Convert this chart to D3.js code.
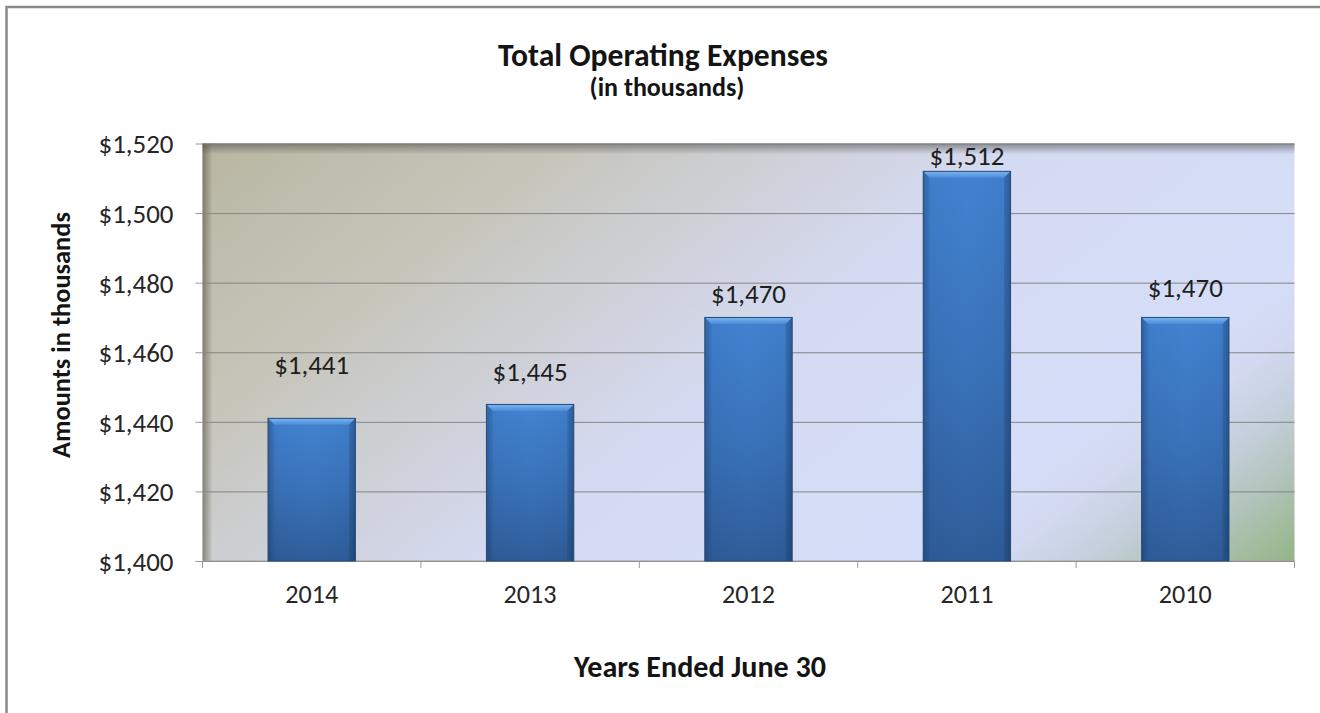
<!DOCTYPE html>
<html>
<head>
<meta charset="utf-8">
<script src="https://cdn.jsdelivr.net/npm/d3@7"></script>
<style>
  html, body { margin: 0; padding: 0; background: #ffffff; overflow: hidden; }
  svg { display: block; }
</style>
</head>
<body>
<script>
// Total operating expenses by fiscal year (amounts in thousands)
const years = ["2014", "2013", "2012", "2011", "2010"];
const expenses = [1441, 1445, 1470, 1512, 1470];
const yTicks = [1400, 1420, 1440, 1460, 1480, 1500, 1520];

// how far each value label sits above its bar (px)
const labelLift = [44, 23, 14, 6, 20];

const W = 1320, H = 713;
const plot = { left: 202.5, right: 1294.5, top: 143.5, bottom: 561 };
const FONT = "Carlito, Calibri, Lato, sans-serif";

const svg = d3.select("body").append("svg")
  .attr("width", W).attr("height", H);

const defs = svg.append("defs");

// plot area background: beige at upper left through pale blue to a green corner
const bg = defs.append("linearGradient").attr("id", "plotBg")
  .attr("gradientUnits", "userSpaceOnUse")
  .attr("x1", plot.left).attr("y1", plot.top)
  .attr("x2", 813).attr("y2", 933);
[[0, "#b9b6a2"], [0.22, "#c6c5ba"], [0.36, "#ced0d6"], [0.5, "#d4daf1"],
 [0.76, "#d6ddf8"], [0.82, "#d2d9f0"], [0.87, "#c6cfdc"], [0.93, "#b0c3b8"],
 [0.98, "#9cb993"], [1, "#92b489"]]
  .forEach(([o, c]) => bg.append("stop").attr("offset", o).attr("stop-color", c));

const shadeTop = defs.append("linearGradient").attr("id", "shadeTop")
  .attr("x1", 0).attr("y1", 0).attr("x2", 0).attr("y2", 1);
shadeTop.append("stop").attr("offset", 0).attr("stop-color", "#4a4a48").attr("stop-opacity", 0.55);
shadeTop.append("stop").attr("offset", 1).attr("stop-color", "#4a4a48").attr("stop-opacity", 0);

const shadeLeft = defs.append("linearGradient").attr("id", "shadeLeft")
  .attr("x1", 0).attr("y1", 0).attr("x2", 1).attr("y2", 0);
shadeLeft.append("stop").attr("offset", 0).attr("stop-color", "#4a4838").attr("stop-opacity", 0.55);
shadeLeft.append("stop").attr("offset", 1).attr("stop-color", "#4a4838").attr("stop-opacity", 0);

const barFill = defs.append("linearGradient").attr("id", "barFill")
  .attr("x1", 0).attr("y1", 0).attr("x2", 0).attr("y2", 1);
barFill.append("stop").attr("offset", 0).attr("stop-color", "#4283d2");
barFill.append("stop").attr("offset", 0.5).attr("stop-color", "#3a73ba");
barFill.append("stop").attr("offset", 1).attr("stop-color", "#2f5d9a");

const barSides = defs.append("linearGradient").attr("id", "barSides")
  .attr("x1", 0).attr("y1", 0).attr("x2", 1).attr("y2", 0);
[[0, 0.28], [0.07, 0.05], [0.5, 0], [0.93, 0.05], [1, 0.3]]
  .forEach(([o, a]) => barSides.append("stop").attr("offset", o)
    .attr("stop-color", "#0c2244").attr("stop-opacity", a));

const barCap = defs.append("linearGradient").attr("id", "barCap")
  .attr("x1", 0).attr("y1", 0).attr("x2", 0).attr("y2", 1);
barCap.append("stop").attr("offset", 0).attr("stop-color", "#7cb6ef");
barCap.append("stop").attr("offset", 1).attr("stop-color", "#4a8bd9");

// scales
const x = d3.scaleBand().domain(years)
  .range([plot.left, plot.right])
  .paddingInner(0.6).paddingOuter(0.3);
const y = d3.scaleLinear().domain([1400, 1520])
  .range([plot.bottom, plot.top]);

const money = v => "$" + d3.format(",")(v);

// chart frame (left and top edges)
svg.append("path")
  .attr("d", `M6.5,${H + 5}V7H${W + 5}`)
  .attr("fill", "none").attr("stroke", "#8a8a8a").attr("stroke-width", 2.5);

// plot area
svg.append("rect")
  .attr("x", plot.left).attr("y", plot.top)
  .attr("width", plot.right - plot.left).attr("height", plot.bottom - plot.top)
  .attr("fill", "url(#plotBg)");
svg.append("rect")
  .attr("x", plot.left).attr("y", plot.top)
  .attr("width", plot.right - plot.left).attr("height", 11)
  .attr("fill", "url(#shadeTop)");
svg.append("rect")
  .attr("x", plot.left).attr("y", plot.top)
  .attr("width", 10).attr("height", plot.bottom - plot.top)
  .attr("fill", "url(#shadeLeft)");

// y axis with gridlines
const yAxis = svg.append("g")
  .attr("transform", `translate(${plot.left},0)`)
  .call(d3.axisLeft(y).tickValues(yTicks).tickFormat(money)
    .tickSize(7).tickPadding(22));
yAxis.select(".domain").remove();
yAxis.selectAll(".tick line").attr("stroke", "#9a9a9a");
yAxis.selectAll(".tick").append("line")
  .attr("x1", 0).attr("x2", plot.right - plot.left)
  .attr("stroke", d => d === 1520 ? "#7c7d80" : "#858585")
  .attr("stroke-width", 1);
const yLabels = yAxis.selectAll(".tick text")
  .attr("font-family", FONT).attr("font-size", 24)
  .attr("fill", "#262626").attr("dy", "0.35em");

// x axis
const xAxisG = svg.append("g").attr("transform", `translate(0,${plot.bottom})`);
xAxisG.append("line")
  .attr("x1", plot.left).attr("x2", plot.right)
  .attr("stroke", "#a0a0a0").attr("stroke-width", 1.2);
const bounds = years.map((d, i) => i === 0 ? plot.left
  : x(d) - x.step() * x.paddingInner() / 2);
bounds.push(plot.right);
xAxisG.selectAll("line.cat-tick").data(bounds).join("line")
  .attr("class", "cat-tick")
  .attr("x1", d => d).attr("x2", d => d)
  .attr("y1", 0).attr("y2", 7)
  .attr("stroke", "#9a9a9a");
const xLabels = xAxisG.selectAll("text.cat").data(years).join("text")
  .attr("class", "cat")
  .attr("x", d => x(d) + x.bandwidth() / 2)
  .attr("y", 42)
  .attr("text-anchor", "middle")
  .attr("font-family", FONT).attr("font-size", 24)
  .attr("fill", "#262626")
  .text(d => d);

// bars with a bevelled top
const bars = svg.append("g").selectAll("g.bar")
  .data(years.map((yr, i) => ({ yr, v: expenses[i], i })))
  .join("g").attr("class", "bar");

bars.each(function (d) {
  const g = d3.select(this);
  const x0 = x(d.yr), bw = x.bandwidth(), x1 = x0 + bw;
  const yt = y(d.v), yb = y(1400);
  const b = 6.5;
  g.append("rect").attr("x", x0).attr("y", yt).attr("width", bw).attr("height", yb - yt)
    .attr("fill", "url(#barFill)");
  g.append("rect").attr("x", x0).attr("y", yt).attr("width", bw).attr("height", yb - yt)
    .attr("fill", "url(#barSides)");
  g.append("path")
    .attr("d", `M${x0},${yt}L${x1},${yt}L${x1 - b},${yt + b}L${x0 + b},${yt + b}Z`)
    .attr("fill", "url(#barCap)");
  g.append("path")
    .attr("d", `M${x0},${yt}L${x0 + b},${yt + b}L${x0 + b},${yb}L${x0},${yb}Z`)
    .attr("fill", "#1d3f70").attr("fill-opacity", 0.12);
  g.append("path")
    .attr("d", `M${x1},${yt}L${x1 - b},${yt + b}L${x1 - b},${yb}L${x1},${yb}Z`)
    .attr("fill", "#0f2a50").attr("fill-opacity", 0.18);
  g.append("rect").attr("x", x0).attr("y", yt).attr("width", bw).attr("height", yb - yt)
    .attr("fill", "none").attr("stroke", "#274a78").attr("stroke-width", 1);
});

// value labels
const vLabels = svg.append("g").selectAll("text")
  .data(years.map((yr, i) => ({ yr, v: expenses[i], i })))
  .join("text")
  .attr("x", d => x(d.yr) + x.bandwidth() / 2)
  .attr("y", d => y(d.v) - labelLift[d.i])
  .attr("text-anchor", "middle")
  .attr("font-family", FONT).attr("font-size", 24)
  .attr("fill", "#1e1e1e")
  .text(d => money(d.v));

// titles
const title = svg.append("text")
  .attr("x", 663).attr("y", 66).attr("text-anchor", "middle")
  .attr("font-family", FONT).attr("font-weight", "bold").attr("font-size", 28)
  .attr("fill", "#141414").text("Total Operating Expenses");
const subtitle = svg.append("text")
  .attr("x", 667).attr("y", 96).attr("text-anchor", "middle")
  .attr("font-family", FONT).attr("font-weight", "bold").attr("font-size", 20)
  .attr("fill", "#141414").text("(in thousands)");
const yTitle = svg.append("text")
  .attr("transform", "translate(70,335) rotate(-90)")
  .attr("text-anchor", "middle")
  .attr("font-family", FONT).attr("font-weight", "bold").attr("font-size", 22)
  .attr("fill", "#141414").text("Amounts in thousands");
const xTitle = svg.append("text")
  .attr("x", 700).attr("y", 677).attr("text-anchor", "middle")
  .attr("font-family", FONT).attr("font-weight", "bold").attr("font-size", 22)
  .attr("fill", "#141414").text("Years Ended June 30");

// size text so the rendered width matches the intended width
function fitWidth(sel, target) {
  const node = sel.node();
  const w = node.getComputedTextLength();
  const fs = parseFloat(sel.attr("font-size"));
  const nfs = fs * target / w;
  sel.attr("font-size", nfs);
  return nfs;
}
fitWidth(title, 330);
fitWidth(subtitle, 155);
fitWidth(yTitle, 246);
fitWidth(xTitle, 252);
const numSize = fitWidth(d3.select(yLabels.nodes()[yLabels.size() - 1]), 75);
yLabels.attr("font-size", numSize);
vLabels.attr("font-size", numSize);
const catSize = fitWidth(d3.select(xLabels.nodes()[0]), 53);
xLabels.attr("font-size", catSize);
</script>
</body>
</html>
